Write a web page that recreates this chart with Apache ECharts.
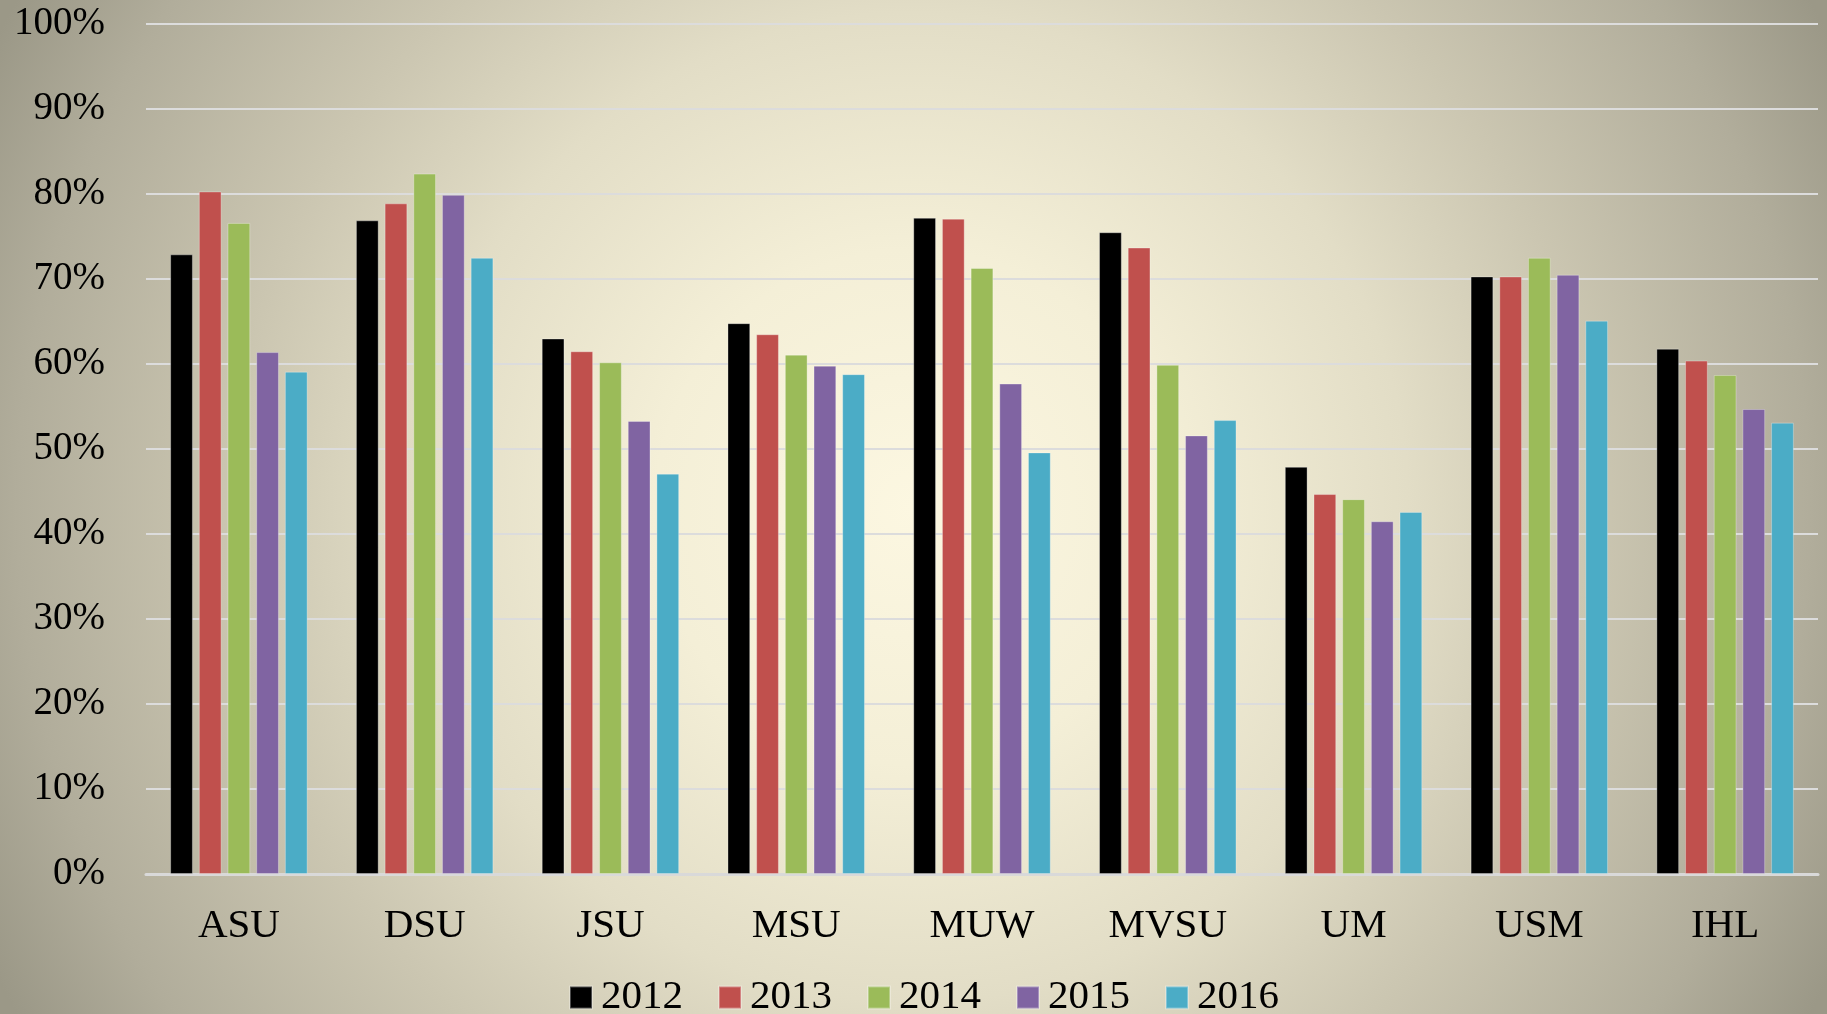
<!DOCTYPE html>
<html>
<head>
<meta charset="utf-8">
<script src="https://cdn.jsdelivr.net/npm/echarts@6/dist/echarts.min.js"></script>
<style>
html,body{margin:0;padding:0;}
#chart{width:1827px;height:1014px;}
</style>
</head>
<body>
<div id="chart"></div>
<script>
/* 各校比例 2012-2016 */
var schools = ['ASU', 'DSU', 'JSU', 'MSU', 'MUW', 'MVSU', 'UM', 'USM', 'IHL'];
var years = ['2012', '2013', '2014', '2015', '2016'];
var v2012 = [72.9, 76.9, 63.0, 64.8, 77.2, 75.5, 47.9, 70.3, 61.8];
var v2013 = [80.3, 78.9, 61.5, 63.5, 77.1, 73.7, 44.7, 70.3, 60.4];
var v2014 = [76.6, 82.4, 60.2, 61.1, 71.3, 59.9, 44.1, 72.5, 58.7];
var v2015 = [61.4, 79.9, 53.3, 59.8, 57.7, 51.6, 41.5, 70.5, 54.7];
var v2016 = [59.1, 72.5, 47.1, 58.8, 49.6, 53.4, 42.6, 65.1, 53.1];
var colors = ['#000000', '#C0504D', '#9BBB59', '#8064A2', '#4BACC6'];

function initSchoolChart(domId){
	var mychart = echarts.init(document.getElementById(domId));
	var values = [v2012, v2013, v2014, v2015, v2016];
	var series = [];
	for (var i = 0; i < years.length; i++) {
		series.push({
			name: years[i],
			type: 'bar',
			data: values[i],
			barGap: '26%',
			barCategoryGap: '26%',
			itemStyle: {
				color: colors[i],
				borderColor: 'rgba(255,255,255,0.3)',
				borderWidth: 1
			}
		});
	}
	var font = 'Liberation Serif';
	var option = {
		backgroundColor: new echarts.graphic.RadialGradient(0.5, 0.5, 1.016, [
			{offset: 0, color: '#fcf7e1'},
			{offset: 0.25, color: '#f4efd7'},
			{offset: 0.48, color: '#e2ddc6'},
			{offset: 0.66, color: '#cbc6b1'},
			{offset: 0.87, color: '#b1ad9b'},
			{offset: 1, color: '#9b9887'}
		]),
		color: colors,
		animation: false,
		grid: {
			left: 146,
			right: 9,
			top: 24,
			bottom: 140
		},
		legend: {
			data: years,
			left: 564,
			top: 972,
			icon: 'rect',
			itemWidth: 22,
			itemHeight: 22,
			itemGap: 35,
			textStyle: {
				color: '#000',
				fontFamily: font,
				fontSize: 41,
				padding: [0, 0, 0, 4]
			}
		},
		xAxis: {
			type: 'category',
			data: schools,
			axisLine: {
				lineStyle: {
					color: '#d9d9d9',
					width: 3
				}
			},
			axisTick: {
				show: false
			},
			axisLabel: {
				color: '#000',
				fontFamily: font,
				fontSize: 41,
				margin: 32
			}
		},
		yAxis: {
			type: 'value',
			min: 0,
			max: 100,
			interval: 10,
			axisLine: {
				show: false
			},
			axisTick: {
				show: false
			},
			axisLabel: {
				color: '#000',
				fontFamily: font,
				fontSize: 39,
				margin: 41,
				formatter: '{value}%'
			},
			splitLine: {
				lineStyle: {
					color: '#dcdcdc',
					width: 2
				}
			}
		},
		series: series
	};
	mychart.setOption(option);
}
initSchoolChart('chart');
</script>
</body>
</html>
